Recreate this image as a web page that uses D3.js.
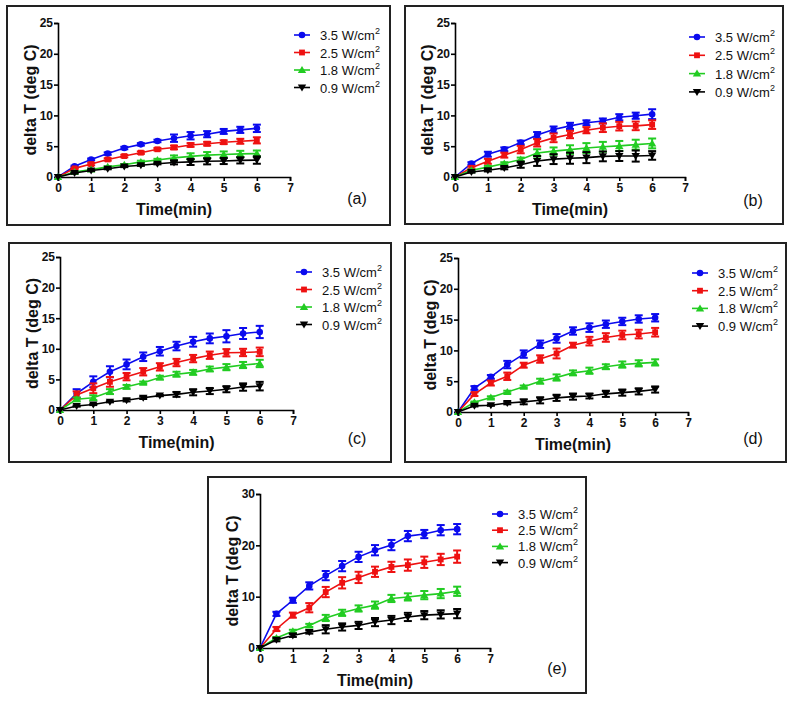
<!DOCTYPE html>
<html>
<head>
<meta charset="utf-8">
<script src="https://cdn.jsdelivr.net/npm/d3@7"></script>
<style>
  html, body { margin: 0; padding: 0; background: #fff; }
  svg { display: block; }
  text { font-family: "Liberation Sans", Arial, sans-serif; }
</style>
</head>
<body>
<svg id="chart" width="800" height="704"></svg>
<script>
// ---------- DATA ----------
const times = [0, 0.5, 1, 1.5, 2, 2.5, 3, 3.5, 4, 4.5, 5, 5.5, 6];
const seriesLabels = ["3.5 W/cm", "2.5 W/cm", "1.8 W/cm", "0.9 W/cm"];
const panelLabels = ["(a)", "(b)", "(c)", "(d)", "(e)"];
const xTicks = [0, 1, 2, 3, 4, 5, 6, 7];
const yTicksSmall = [0, 5, 10, 15, 20, 25];
const yTicksLarge = [0, 10, 20, 30];

// mean delta T per series (3.5, 2.5, 1.8, 0.9 W/cm2)
const meanA = [
  [0, 1.75, 2.85, 3.8, 4.7, 5.3, 5.85, 6.3, 6.7, 6.95, 7.4, 7.65, 7.9],
  [0, 1.4, 2.1, 2.85, 3.4, 3.95, 4.5, 4.8, 5.2, 5.4, 5.65, 5.8, 5.95],
  [0, 0.8, 1.2, 1.65, 2.0, 2.45, 2.75, 3.1, 3.35, 3.55, 3.65, 3.75, 3.8],
  [0, 0.65, 1.05, 1.35, 1.7, 1.9, 2.15, 2.35, 2.45, 2.55, 2.6, 2.7, 2.75]
];
const errA = [
  [0, 0.1, 0.15, 0.2, 0.2, 0.2, 0.2, 0.6, 0.6, 0.5, 0.4, 0.5, 0.6],
  [0, 0.1, 0.2, 0.2, 0.2, 0.2, 0.2, 0.3, 0.3, 0.3, 0.3, 0.4, 0.5],
  [0, 0.1, 0.1, 0.1, 0.1, 0.2, 0.2, 0.4, 0.5, 0.5, 0.5, 0.5, 0.5],
  [0, 0.1, 0.1, 0.1, 0.1, 0.1, 0.1, 0.3, 0.5, 0.5, 0.5, 0.5, 0.6]
];
const meanB = [
  [0, 2.2, 3.7, 4.5, 5.6, 6.8, 7.7, 8.3, 8.8, 9.1, 9.7, 9.95, 10.2],
  [0, 1.5, 2.55, 3.55, 4.45, 5.55, 6.35, 6.9, 7.6, 8.0, 8.25, 8.3, 8.5],
  [0, 1.1, 1.6, 2.2, 2.85, 3.9, 4.2, 4.45, 4.7, 4.9, 5.05, 5.25, 5.45],
  [0, 0.8, 1.1, 1.45, 2.0, 2.6, 2.9, 3.05, 3.15, 3.35, 3.4, 3.4, 3.5]
];
const errB = [
  [0, 0.2, 0.4, 0.3, 0.3, 0.5, 0.5, 0.5, 0.4, 0.4, 0.5, 0.5, 0.8],
  [0, 0.2, 0.4, 0.4, 0.6, 0.6, 0.7, 0.6, 0.5, 0.7, 0.7, 0.7, 0.7],
  [0, 0.1, 0.2, 0.2, 0.3, 0.6, 0.6, 0.7, 0.8, 0.8, 0.8, 0.8, 0.8],
  [0, 0.1, 0.2, 0.2, 0.5, 0.8, 0.8, 0.9, 0.9, 0.8, 0.8, 0.9, 0.7]
];
const meanC = [
  [0, 2.7, 4.6, 6.25, 7.45, 8.7, 9.6, 10.45, 11.15, 11.7, 12.05, 12.5, 12.75],
  [0, 2.45, 3.55, 4.6, 5.45, 6.25, 7.05, 7.75, 8.4, 8.95, 9.35, 9.4, 9.5],
  [0, 1.75, 2.0, 3.0, 3.8, 4.45, 5.3, 5.85, 6.15, 6.7, 7.0, 7.35, 7.6],
  [0, 0.65, 0.9, 1.35, 1.6, 2.0, 2.35, 2.55, 2.9, 3.1, 3.4, 3.75, 3.9]
];
const errC = [
  [0, 0.7, 0.9, 0.9, 0.8, 0.7, 0.7, 0.7, 0.8, 0.8, 1.0, 0.9, 1.0],
  [0, 0.6, 0.8, 0.8, 0.6, 0.6, 0.6, 0.6, 0.6, 0.6, 0.6, 0.6, 0.7],
  [0, 0.3, 0.4, 0.4, 0.3, 0.2, 0.3, 0.4, 0.4, 0.4, 0.5, 0.5, 0.6],
  [0, 0.1, 0.1, 0.1, 0.2, 0.2, 0.1, 0.4, 0.5, 0.5, 0.5, 0.6, 0.7]
];
const meanD = [
  [0, 3.9, 5.7, 7.7, 9.4, 11.0, 11.95, 13.15, 13.7, 14.25, 14.7, 15.1, 15.3],
  [0, 2.9, 4.7, 5.8, 7.6, 8.6, 9.5, 10.85, 11.5, 12.1, 12.5, 12.65, 12.95],
  [0, 1.6, 2.35, 3.25, 4.1, 5.0, 5.6, 6.35, 6.7, 7.35, 7.7, 7.9, 8.05],
  [0, 1.0, 1.1, 1.45, 1.65, 1.9, 2.3, 2.5, 2.6, 2.95, 3.15, 3.35, 3.65]
];
const errD = [
  [0, 0.3, 0.3, 0.6, 0.6, 0.6, 0.7, 0.6, 0.7, 0.6, 0.6, 0.6, 0.6],
  [0, 0.3, 0.4, 0.6, 0.4, 0.6, 0.8, 0.4, 0.7, 0.7, 0.7, 0.7, 0.7],
  [0, 0.1, 0.2, 0.2, 0.2, 0.4, 0.5, 0.4, 0.5, 0.4, 0.5, 0.5, 0.5],
  [0, 0.1, 0.1, 0.2, 0.4, 0.5, 0.5, 0.5, 0.4, 0.5, 0.5, 0.5, 0.5]
];
const meanE = [
  [0, 6.65, 9.3, 12.1, 14.1, 15.95, 17.75, 19.05, 20.05, 21.8, 22.2, 22.95, 23.15],
  [0, 3.7, 6.4, 7.85, 10.9, 12.7, 13.75, 14.85, 15.8, 16.15, 16.7, 17.25, 17.8],
  [0, 1.95, 3.25, 4.4, 5.85, 6.85, 7.7, 8.35, 9.65, 9.95, 10.3, 10.6, 11.05],
  [0, 1.6, 2.45, 3.1, 3.65, 4.1, 4.4, 5.05, 5.45, 6.05, 6.4, 6.55, 6.7]
];
const errE = [
  [0, 0.4, 0.5, 0.7, 0.9, 1.0, 1.0, 1.0, 1.0, 1.0, 0.8, 1.0, 1.0],
  [0, 0.4, 0.5, 0.9, 1.0, 1.1, 1.1, 1.0, 1.0, 1.1, 1.1, 1.1, 1.2],
  [0, 0.2, 0.3, 0.3, 0.6, 0.6, 0.6, 0.7, 0.7, 0.7, 0.8, 0.9, 0.9],
  [0, 0.3, 0.3, 0.3, 0.8, 0.7, 0.7, 0.8, 0.8, 0.8, 0.8, 0.8, 0.9]
];

// ---------- STYLE / LAYOUT ----------
const colors = ["#0a0aee", "#ee1111", "#22cc22", "#000000"];
const symbols = ["circle", "square", "triangle", "triangleDown"];

const layout = [
  { frame: [7, 6, 390, 225], ax: [58, 290, 177, 23], yMax: 25, yt: yTicksSmall, leg: [302, 35, 17.5], lab: [357, 198] },
  { frame: [405, 6, 783, 224], ax: [455, 685, 177, 23], yMax: 25, yt: yTicksSmall, leg: [697, 37, 18.3], lab: [753, 200] },
  { frame: [9, 243, 391, 462], ax: [60, 293, 410, 257], yMax: 25, yt: yTicksSmall, leg: [304, 272, 17.5], lab: [357, 438] },
  { frame: [405, 243, 786, 462], ax: [458, 688, 412, 258], yMax: 25, yt: yTicksSmall, leg: [700, 273, 17.7], lab: [753, 438] },
  { frame: [208, 477, 586, 693], ax: [260, 490, 648, 494], yMax: 30, yt: yTicksLarge, leg: [500, 514, 16.2], lab: [557, 668] }
];
const means = [meanA, meanB, meanC, meanD, meanE];
const errs = [errA, errB, errC, errD, errE];

const svg = d3.select("#chart");

function symbolPath(kind, cx, cy) {
  if (kind === "circle") return d3.symbol(d3.symbolCircle, 34)();
  if (kind === "square") return d3.symbol(d3.symbolSquare, 34)();
  if (kind === "triangle") return "M0,-4L4.2,3L-4.2,3Z";
  return "M0,4L4.2,-3L-4.2,-3Z";
}

layout.forEach((L, pi) => {
  const g = svg.append("g");
  const [fx0, fy0, fx1, fy1] = L.frame;
  g.append("rect")
    .attr("x", fx0).attr("y", fy0)
    .attr("width", fx1 - fx0).attr("height", fy1 - fy0)
    .attr("fill", "none").attr("stroke", "#222").attr("stroke-width", 2);

  const x = d3.scaleLinear().domain([0, 7]).range([L.ax[0], L.ax[1]]);
  const y = d3.scaleLinear().domain([0, L.yMax]).range([L.ax[2], L.ax[3]]);

  // axes
  const xAxis = g.append("g").attr("transform", `translate(0,${L.ax[2]})`)
    .call(d3.axisBottom(x).tickValues(xTicks).tickSize(4).tickPadding(2).tickFormat(d3.format("d")));
  const yAxis = g.append("g").attr("transform", `translate(${L.ax[0]},0)`)
    .call(d3.axisLeft(y).tickValues(L.yt).tickSize(4).tickPadding(1).tickFormat(d3.format("d")));
  [xAxis, yAxis].forEach(a => {
    a.select(".domain").attr("stroke", "#000").attr("stroke-width", 1.6);
    a.selectAll(".tick line").attr("stroke", "#000").attr("stroke-width", 1.6);
    a.selectAll(".tick text").attr("fill", "#111")
      .style("font-family", '"Liberation Sans", Arial, sans-serif')
      .style("font-size", "12px").style("font-weight", "bold");
  });

  // axis titles
  g.append("text")
    .attr("transform", `translate(${L.ax[0] - 28},${(L.ax[2] + L.ax[3]) / 2}) rotate(-90)`)
    .attr("text-anchor", "middle").attr("dy", "0.35em")
    .style("font-size", "16px").style("font-weight", "bold").attr("fill", "#111")
    .text("delta T (deg C)");
  g.append("text")
    .attr("x", (L.ax[0] + L.ax[1]) / 2).attr("y", L.ax[2] + 32)
    .attr("text-anchor", "middle").attr("dy", "0.35em")
    .style("font-size", "16px").style("font-weight", "bold").attr("fill", "#111")
    .text("Time(min)");

  // panel label
  g.append("text").attr("x", L.lab[0]).attr("y", L.lab[1])
    .attr("text-anchor", "middle").attr("dy", "0.35em")
    .style("font-size", "16px").attr("fill", "#111")
    .text(panelLabels[pi]);

  // series
  const M = means[pi], E = errs[pi];
  M.forEach((vals, si) => {
    const pts = times.map((t, i) => ({ t, v: vals[i], e: E[si][i] }));
    const sg = g.append("g");
    sg.append("path")
      .attr("d", d3.line().x(d => x(d.t)).y(d => y(d.v))(pts))
      .attr("fill", "none").attr("stroke", colors[si]).attr("stroke-width", 1.6);
    const eb = sg.selectAll(".eb").data(pts.filter(d => d.e > 0)).enter().append("g");
    eb.append("line")
      .attr("x1", d => x(d.t)).attr("x2", d => x(d.t))
      .attr("y1", d => y(d.v - d.e)).attr("y2", d => y(d.v + d.e))
      .attr("stroke", colors[si]).attr("stroke-width", 2);
    [1, -1].forEach(sgn => {
      eb.append("line")
        .attr("x1", d => x(d.t) - 4).attr("x2", d => x(d.t) + 4)
        .attr("y1", d => y(d.v + sgn * d.e)).attr("y2", d => y(d.v + sgn * d.e))
        .attr("stroke", colors[si]).attr("stroke-width", 2);
    });
    sg.selectAll(".mk").data(pts).enter().append("path")
      .attr("transform", d => `translate(${x(d.t)},${y(d.v)})`)
      .attr("d", symbolPath(symbols[si]))
      .attr("fill", colors[si]);
  });

  // legend
  seriesLabels.forEach((lbl, si) => {
    const ly = L.leg[1] + si * L.leg[2];
    const lx = L.leg[0];
    g.append("line").attr("x1", lx - 8).attr("x2", lx + 8).attr("y1", ly).attr("y2", ly)
      .attr("stroke", colors[si]).attr("stroke-width", 1.6);
    g.append("path").attr("transform", `translate(${lx},${ly})`)
      .attr("d", symbolPath(symbols[si])).attr("fill", colors[si]);
    const t = g.append("text").attr("x", lx + 18).attr("y", ly + 5)
      .style("font-size", "13px").attr("fill", "#111");
    t.append("tspan").text(lbl);
    t.append("tspan").attr("dy", -6).style("font-size", "9px").text("2");
  });
});
</script>
</body>
</html>
